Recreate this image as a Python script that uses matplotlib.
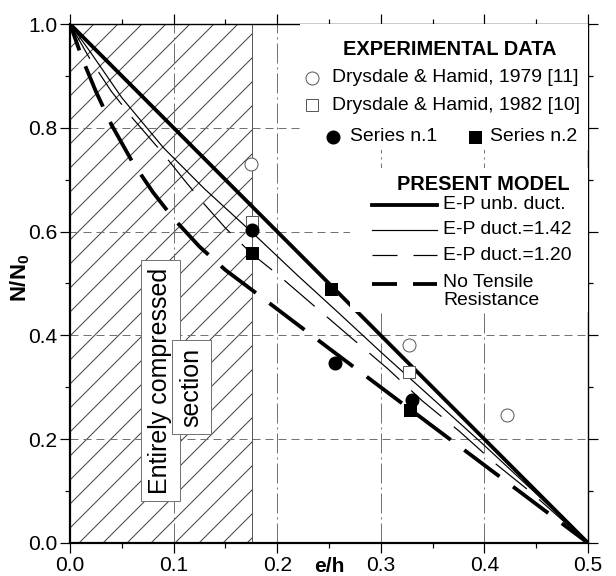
import numpy as np
import matplotlib
matplotlib.use('Agg')
import matplotlib.pyplot as plt
from matplotlib.patches import Rectangle
from matplotlib.collections import LineCollection

plt.rcParams['font.family'] = ['Liberation Sans', 'DejaVu Sans']
plt.rcParams['mathtext.fontset'] = 'custom'
plt.rcParams['mathtext.rm'] = 'Liberation Sans'
plt.rcParams['mathtext.bf'] = 'Liberation Sans:bold'
plt.rcParams['lines.scale_dashes'] = False

# experimental data (e/h, N/N0)
e_dh79 = [0.175, 0.327, 0.4215]
n_dh79 = [0.730, 0.381, 0.247]
e_dh82 = [0.176, 0.327]
n_dh82 = [0.619, 0.330]
e_s1 = [0.176, 0.256, 0.330]
n_s1 = [0.603, 0.347, 0.276]
e_s2 = [0.176, 0.2516, 0.328]
n_s2 = [0.558, 0.489, 0.256]

# present model curves
e_unb = [0.0, 0.5]
n_unb = [1.0, 0.0]
e_142 = [0.0, 0.02, 0.05, 0.09, 0.13, 0.176, 0.22, 0.26, 0.30, 0.35, 0.40, 0.45, 0.50]
n_142 = [1.0, 0.945, 0.858, 0.762, 0.682, 0.598, 0.515, 0.442, 0.368, 0.278, 0.188, 0.095, 0.0]
e_120 = [0.0, 0.02, 0.04, 0.061, 0.09, 0.11, 0.13, 0.15, 0.175, 0.20, 0.235, 0.27,
         0.306, 0.34, 0.376, 0.41, 0.446, 0.5]
n_120 = [1.0, 0.93, 0.87, 0.817, 0.75, 0.70, 0.652, 0.607, 0.558, 0.518, 0.458, 0.398,
         0.337, 0.274, 0.215, 0.154, 0.096, 0.0]
e_nt = [0.0, 0.0125, 0.025, 0.04, 0.06, 0.08, 0.10, 0.125, 0.15, 0.176, 0.25, 0.35, 0.5]
n_nt = [1.0, 0.930, 0.870, 0.806, 0.735, 0.676, 0.625, 0.571, 0.526, 0.487, 0.375, 0.225, 0.0]

e_limit = 0.176  # limit of the entirely compressed section

x_ticks = [0.0, 0.1, 0.2, 0.3, 0.4, 0.5]
y_ticks = [0.0, 0.2, 0.4, 0.6, 0.8, 1.0]

THICK = 1.9
THIN = 0.6
dash_thin = (0, (20, 8))
dash_thick = (8, (22, 8.5))
dash_leg = (0, (12.5, 8))

W, H, DPI = 616, 576, 144
AX_W, AX_H = 518, 519  # axes size in pixels

fig = plt.figure(figsize=(W / DPI, H / DPI), dpi=DPI)
ax = fig.add_axes([70 / W, 33 / H, AX_W / W, AX_H / H])

ax.set_xlim(0, 0.5)
ax.set_ylim(0, 1)
ax.set_xticks(x_ticks)
ax.set_yticks(y_ticks)
ax.set_xticks(np.arange(0.05, 0.5, 0.1), minor=True)
ax.set_yticks(np.arange(0.1, 1.0, 0.2), minor=True)
ax.set_xticklabels(['%.1f' % v for v in x_ticks])
ax.set_yticklabels(['%.1f' % v for v in y_ticks])
ax.tick_params(which='both', direction='out', top=True, right=True, labelsize=10.5,
               width=0.6, pad=1.5)
ax.tick_params(which='major', length=5)
ax.tick_params(which='minor', length=2.5)
for side in ['left', 'bottom']:
    ax.spines[side].set_linewidth(1.1)
for side in ['top', 'right']:
    ax.spines[side].set_linewidth(0.7)

# hatched zone: 45 deg lines (in pixels), 24 px apart
px_x = AX_W / 0.5
px_y = AX_H / 1.0
segs = []
for c in np.arange(-AX_H, e_limit * px_x, 24):
    e0 = max(c / px_x, 0.0)
    e1 = min((c + AX_H) / px_x, e_limit)
    if e1 <= e0:
        continue
    segs.append([(e0, (e0 * px_x - c) / px_y), (e1, (e1 * px_x - c) / px_y)])
ax.add_collection(LineCollection(segs, colors='0.25', linewidths=0.5, zorder=0.5))
ax.axvline(e_limit, color='0.35', lw=0.5, zorder=1.6)

# grid
for v in y_ticks[1:-1]:
    ax.axhline(v, color='0.45', lw=0.5, ls=(0, (4, 2.5)), zorder=1.5)
for v in x_ticks[1:-1]:
    ax.axvline(v, color='0.45', lw=0.5, ls=(0, (10, 2, 1, 2)), zorder=1.5)

# model curves
ax.plot(e_unb, n_unb, color='k', lw=THICK, zorder=2.2)
ax.plot(e_142, n_142, color='k', lw=THIN, zorder=2.1)
ax.plot(e_120, n_120, color='k', lw=THIN, ls=dash_thin, zorder=2.1)
ax.plot(e_nt, n_nt, color='k', lw=THICK, ls=dash_thick, dash_capstyle='butt', zorder=2.2)

# experimental points
ax.plot(e_dh79, n_dh79, 'o', ms=6.5, mfc='white', mec='0.35', mew=0.5, zorder=5)
ax.plot(e_dh82, n_dh82, 's', ms=6, mfc='white', mec='0.35', mew=0.5, zorder=5)
ax.plot(e_s1, n_s1, 'o', ms=6, color='k', zorder=5)
ax.plot(e_s2, n_s2, 's', ms=5.5, color='k', zorder=5)

# zone label
box = dict(boxstyle='square,pad=0.3', fc='white', ec='0.45', lw=0.5)
ax.text(0.0869, 0.313, 'Entirely compressed', rotation=90, ha='center', va='center',
        fontsize=12.5, bbox=box, zorder=3.5)
ax.text(0.1175, 0.300, 'section', rotation=90, ha='center', va='center',
        fontsize=12.5, bbox=box, zorder=3.6)

# legend (manual layout, axes fraction)
tr = ax.transAxes
ax.add_patch(Rectangle((0.444, 0.757), 0.556, 0.243, transform=tr, fc='white', ec='none', zorder=3))
ax.add_patch(Rectangle((0.5405, 0.445), 0.4595, 0.2775, transform=tr, fc='white', ec='none', zorder=3))

ax.text(0.7336, 0.950, 'EXPERIMENTAL DATA', transform=tr, ha='center', va='center',
        fontsize=10, fontweight='bold', zorder=4)
ax.plot([0.4666], [0.8966], 'o', ms=6.5, mfc='white', mec='0.35', mew=0.5, transform=tr, zorder=4)
ax.text(0.5052, 0.8966, 'Drysdale & Hamid, 1979 [11]', transform=tr, va='center', fontsize=9.7, zorder=4)
ax.plot([0.4666], [0.8439], 's', ms=6, mfc='white', mec='0.35', mew=0.5, transform=tr, zorder=4)
ax.text(0.5052, 0.8439, 'Drysdale & Hamid, 1982 [10]', transform=tr, va='center', fontsize=9.7, zorder=4)
ax.plot([0.5077], [0.7829], 'o', ms=6, color='k', transform=tr, zorder=4)
ax.text(0.5405, 0.7829, 'Series n.1', transform=tr, va='center', fontsize=9.7, zorder=4)
ax.plot([0.7819], [0.7829], 's', ms=5.5, color='k', transform=tr, zorder=4)
ax.text(0.8108, 0.7829, 'Series n.2', transform=tr, va='center', fontsize=9.7, zorder=4)

ax.text(0.797, 0.6898, 'PRESENT MODEL', transform=tr, ha='center', va='center',
        fontsize=10, fontweight='bold', zorder=4)
model_rows = [
    (0.6513, 'E-P unb. duct.', THICK, '-'),
    (0.6031, 'E-P duct.=1.42', THIN, '-'),
    (0.5549, 'E-P duct.=1.20', THIN, dash_leg),
    (0.4995, 'No Tensile\nResistance', THICK, dash_leg),
]
for y, label, lw, ls in model_rows:
    ax.plot([0.5824, 0.7079], [y, y], color='k', lw=lw, ls=ls, dash_capstyle='butt',
            transform=tr, zorder=4)
    ax.text(0.720, y + (0.018 if '\n' in label else 0), label, transform=tr,
            va='top' if '\n' in label else 'center', fontsize=9.7, linespacing=1.05, zorder=4)

# axis labels
ax.text(0.25, -0.046, 'e/h', transform=ax.get_xaxis_transform(), ha='center', va='center',
        fontsize=10.5, fontweight='bold')
ax.text(-0.0965, 0.51, r'N/N$_\mathbf{0}$', transform=tr, rotation=90, ha='center',
        va='center', fontsize=11, fontweight='bold')

fig.savefig('out.png', dpi=DPI, facecolor='white')
